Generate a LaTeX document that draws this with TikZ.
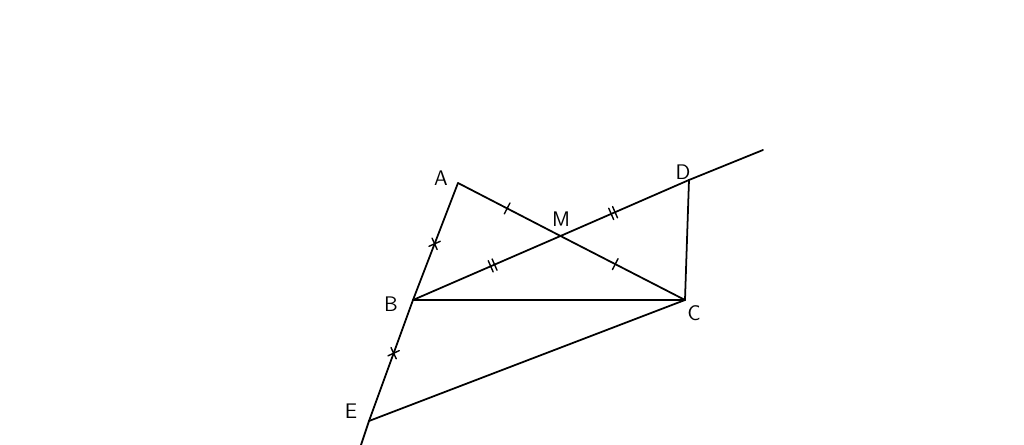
\documentclass[tikz,border=0pt]{standalone}
\usepackage{tikz}
\usetikzlibrary{decorations.markings}
\tikzset{
  onetick/.style={decoration={markings,mark=at position #1 with {\draw[line width=0.8pt] (0,-3.5pt) -- (0,3.5pt);}},postaction={decorate}},
  twotick/.style={decoration={markings,mark=at position #1 with {\draw[line width=0.8pt] (-1.2pt,-3.5pt) -- (-1.2pt,3.5pt) (1.2pt,-3.5pt) -- (1.2pt,3.5pt);}},postaction={decorate}},
  crosstick/.style={decoration={markings,mark=at position #1 with {\draw[line width=0.8pt] (-2.5pt,-2.5pt) -- (2.5pt,2.5pt) (-2.5pt,2.5pt) -- (2.5pt,-2.5pt);}},postaction={decorate}},
  ptlabel/.style={font=\sffamily\large,inner sep=1pt}
}

\begin{document}
\begin{tikzpicture}[line cap=round,line join=round,x=1.0cm,y=1.0cm]
  \useasboundingbox (0,0) rectangle (20.48,8.9);
  % points
  \coordinate (A) at (9.16,5.24);
  \coordinate (B) at (8.26,2.90);
  \coordinate (C) at (13.70,2.90);
  \coordinate (D) at (13.78,5.30);
  \coordinate (M) at (11.21,4.18);
  \coordinate (E) at (7.38,0.48);
  \coordinate (Eend) at (7.22,0);
  \coordinate (Dend) at (15.26,5.90);
  % lines
  \draw[line width=1pt,crosstick=0.52] (A) -- (B);
  \draw[line width=1pt,crosstick=0.44] (B) -- (E);
  \draw[line width=1pt] (E) -- (Eend);
  \draw[line width=1pt,onetick=0.48] (A) -- (M);
  \draw[line width=1pt,onetick=0.44] (M) -- (C);
  \draw[line width=1pt,twotick=0.54] (B) -- (M);
  \draw[line width=1pt,twotick=0.41] (M) -- (D);
  \draw[line width=1pt] (D) -- (Dend);
  \draw[line width=1pt] (B) -- (C);
  \draw[line width=1pt] (C) -- (D);
  \draw[line width=1pt] (E) -- (C);
  % labels
  \node[ptlabel] (lA) at (8.82,5.34) {A};
  \node[ptlabel] (lB) at (7.82,2.82) {B};
  \node[ptlabel] (lC) at (13.88,2.64) {C};
  \node[ptlabel] (lD) at (13.66,5.46) {D};
  \node[ptlabel] (lM) at (11.22,4.52) {M};
  \node[ptlabel] (lE) at (7.02,0.68) {E};
\end{tikzpicture}
\end{document}
